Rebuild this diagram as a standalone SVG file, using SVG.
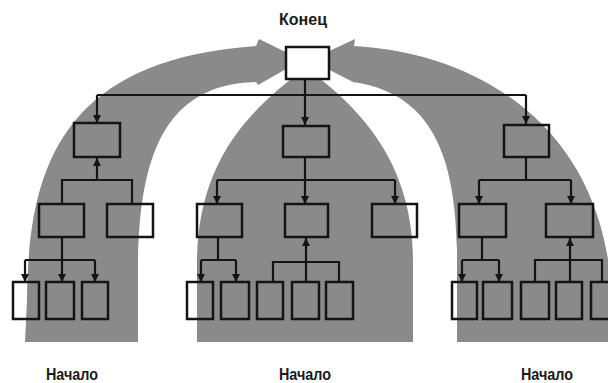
<svg xmlns="http://www.w3.org/2000/svg" width="608" height="383" viewBox="0 0 608 383">
<style>
.band{fill:#8a8a8a;stroke:none}
.box{fill:none;stroke:#141414;stroke-width:2.5}
.top{fill:#fff;stroke:#141414;stroke-width:2.5}
.ln{fill:none;stroke:#141414;stroke-width:2.2}
.ar{fill:none;stroke:#141414;stroke-width:2.2;marker-end:url(#ah)}
.lbl{font-family:"Liberation Sans",Arial,sans-serif;font-weight:bold;font-size:16px;fill:#1a1a1a;text-anchor:middle}
</style>
<defs>
<marker id="ah" viewBox="0 0 8 8" refX="8" refY="4" markerWidth="8" markerHeight="8" orient="auto" markerUnits="userSpaceOnUse">
<path d="M0,0 L8,4 L0,8 z" fill="#141414"/>
</marker>
</defs>
<rect width="608" height="383" fill="#fff"/>
<g id="bands">
<path class="band" d="M25,342 L27,300 C28,170 60,60 256,46 L259,39 L302,60 L258,85 L256,82 C160,84 140,165 138,260 L138,342 Z"/>
<path class="band" d="M197,342 L197,260 C198,170 240,115 306,68 C370,115 412,170 413,260 L413,342 Z"/>
<path class="band" d="M620,342 L612,300 C605,120 470,52 354,46 L355,39 L310,60 L357,84 L354,82 C440,95 455,170 457,250 L457,342 Z"/>
</g>
<g id="connectors">
<path class="ln" d="M305,79 V95 M97,95 H526"/>
<path class="ar" d="M97,95 V123"/>
<path class="ar" d="M305,95 V125"/>
<path class="ar" d="M526,95 V124"/>
<path class="ar" d="M97,180 V158"/>
<path class="ln" d="M62,204 V180 H132 V204"/>
<path class="ln" d="M62,237 V260 M25,260 H95"/>
<path class="ar" d="M25,260 V282"/>
<path class="ar" d="M62,260 V282"/>
<path class="ar" d="M95,260 V282"/>
<path class="ln" d="M305,157 V180 M217,180 H395"/>
<path class="ar" d="M217,180 V204"/>
<path class="ar" d="M305,180 V204"/>
<path class="ar" d="M395,180 V204"/>
<path class="ln" d="M218,237 V260 M201,260 H236"/>
<path class="ar" d="M201,260 V282"/>
<path class="ar" d="M236,260 V282"/>
<path class="ln" d="M273,282 V262 H339 V282"/>
<path class="ar" d="M306,282 V238"/>
<path class="ln" d="M526,157 V180 M479,180 H571"/>
<path class="ar" d="M479,180 V204"/>
<path class="ar" d="M571,180 V204"/>
<path class="ln" d="M482,237 V260 M462,260 H499"/>
<path class="ar" d="M462,260 V282"/>
<path class="ar" d="M499,260 V282"/>
<path class="ln" d="M535,282 V260 H602 V282"/>
<path class="ar" d="M570,282 V238"/>
</g>
<g id="end"><rect class="top" x="286" y="47" width="43" height="32"/></g>
<g id="l1-left"><rect class="box" x="74" y="123" width="46" height="34"/></g>
<g id="l1-mid"><rect class="box" x="283" y="126" width="46" height="31"/></g>
<g id="l1-right"><rect class="box" x="504" y="125" width="45" height="32"/></g>
<g id="l2-a"><rect class="box" x="39" y="204" width="45" height="33"/></g>
<g id="l2-b"><rect class="box" x="107" y="204" width="46" height="33"/></g>
<g id="l2-c"><rect class="box" x="197" y="204" width="45" height="33"/></g>
<g id="l2-d"><rect class="box" x="285" y="204" width="43" height="33"/></g>
<g id="l2-e"><rect class="box" x="372" y="204" width="45" height="33"/></g>
<g id="l2-f"><rect class="box" x="459" y="204" width="47" height="33"/></g>
<g id="l2-g"><rect class="box" x="546" y="204" width="47" height="33"/></g>
<g id="l3-1"><rect class="box" x="13" y="282" width="26" height="37"/></g>
<g id="l3-2"><rect class="box" x="46" y="282" width="28" height="37"/></g>
<g id="l3-3"><rect class="box" x="82" y="282" width="26" height="37"/></g>
<g id="l3-4"><rect class="box" x="187" y="282" width="26" height="37"/></g>
<g id="l3-5"><rect class="box" x="221" y="282" width="28" height="37"/></g>
<g id="l3-6"><rect class="box" x="257" y="282" width="26" height="37"/></g>
<g id="l3-7"><rect class="box" x="292" y="282" width="27" height="37"/></g>
<g id="l3-8"><rect class="box" x="326" y="282" width="27" height="37"/></g>
<g id="l3-9"><rect class="box" x="452" y="282" width="25" height="37"/></g>
<g id="l3-10"><rect class="box" x="483" y="282" width="29" height="37"/></g>
<g id="l3-11"><rect class="box" x="521" y="282" width="28" height="37"/></g>
<g id="l3-12"><rect class="box" x="556" y="282" width="26" height="37"/></g>
<g id="l3-13"><rect class="box" x="591" y="282" width="29" height="37"/></g>
<g id="labels">
<text class="lbl" x="303" y="25" textLength="48" lengthAdjust="spacingAndGlyphs">Конец</text>
<text class="lbl" x="72" y="380" textLength="52" lengthAdjust="spacingAndGlyphs">Начало</text>
<text class="lbl" x="305" y="380" textLength="52" lengthAdjust="spacingAndGlyphs">Начало</text>
<text class="lbl" x="547" y="380" textLength="52" lengthAdjust="spacingAndGlyphs">Начало</text>
</g>
</svg>
